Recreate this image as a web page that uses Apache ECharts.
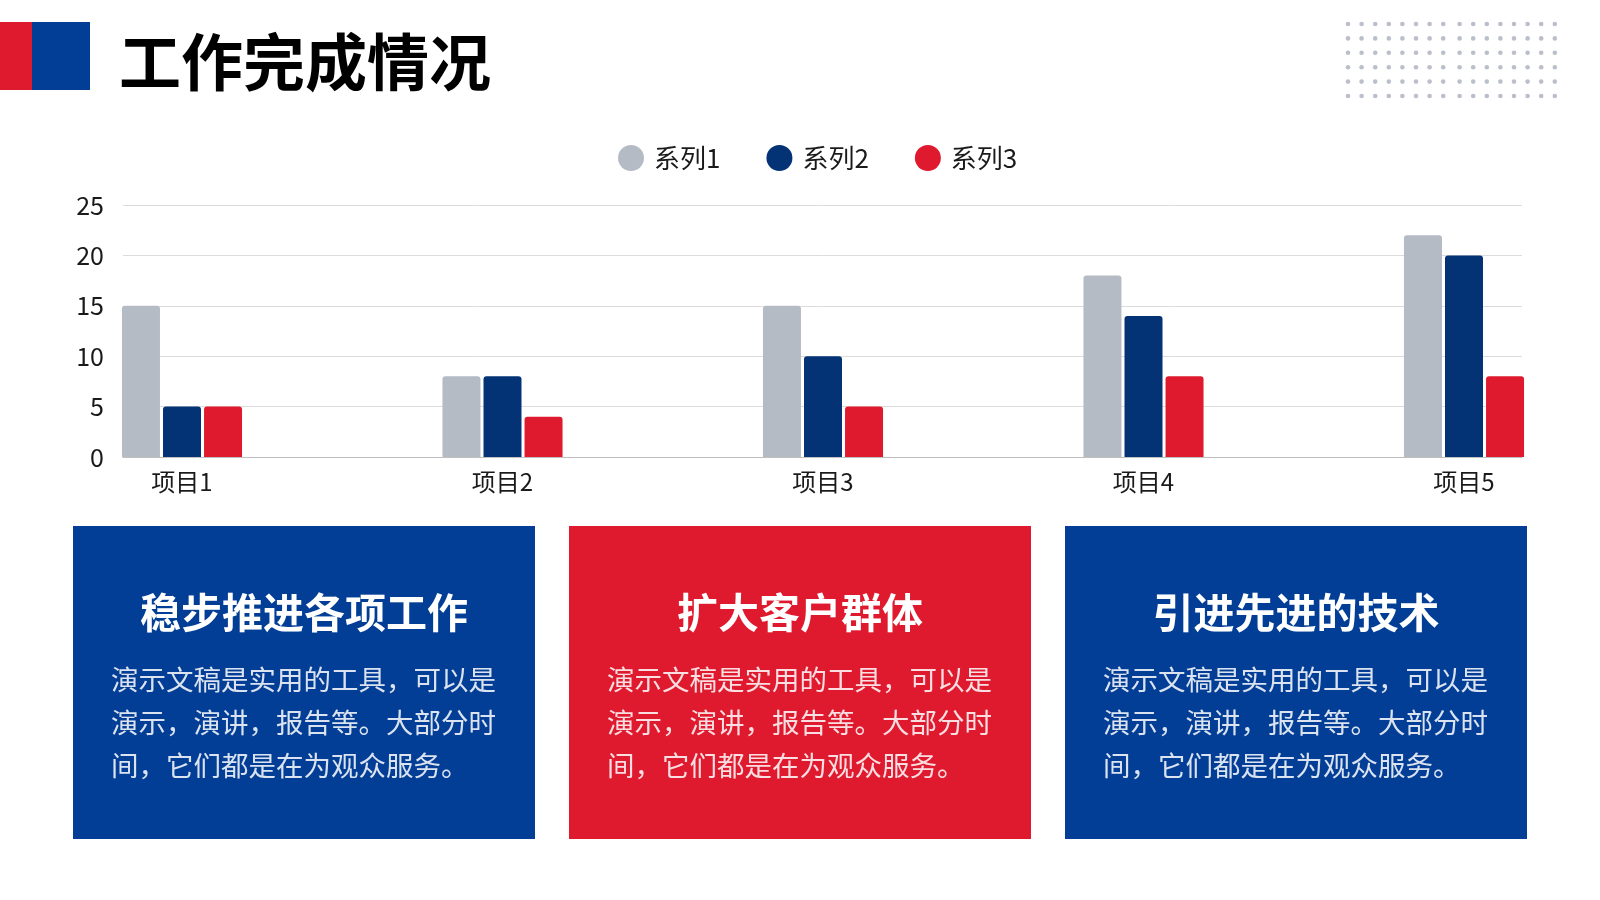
<!DOCTYPE html>
<html>
<head>
<meta charset="utf-8">
<title>工作完成情况</title>
<script src="https://cdn.jsdelivr.net/npm/echarts@6/dist/echarts.min.js"></script>
<style>
    html, body { margin: 0; padding: 0; background: #fff; }
    #main { width: 1600px; height: 900px; }
</style>
</head>
<body>
<div id="main"></div>
<script>
// 图表数据
var categories = ['项目1', '项目2', '项目3', '项目4', '项目5'];
var seriesNames = ['系列1', '系列2', '系列3'];
var series1 = [15, 8, 15, 18, 22];
var series2 = [5, 8, 10, 14, 20];
var series3 = [5, 4, 5, 8, 8];
var yTicks = { min: 0, max: 25, interval: 5 };

// 下方三个说明框
var cardTitles = ['稳步推进各项工作', '扩大客户群体', '引进先进的技术'];
var cardBody = '演示文稿是实用的工具，可以是\n演示，演讲，报告等。大部分时\n间，它们都是在为观众服务。';

var FONT = 'Noto Sans CJK SC';
var RED = '#df1a2e';
var BLUE = '#023e96';
var NAVY = '#033375';
var GRAY = '#b4bbc5';

var chart = echarts.init(document.getElementById('main'));

var graphics = [
    { type: 'rect', shape: { x: 0, y: 22, width: 32, height: 68 }, style: { fill: RED } },
    { type: 'rect', shape: { x: 32, y: 22, width: 58, height: 68 }, style: { fill: BLUE } },
    {
        type: 'text', x: 119, y: 62,
        style: { text: '工作完成情况', font: 'bold 62px "' + FONT + '"', fill: '#000', textVerticalAlign: 'middle' }
    }
];

// 右上角点阵（装饰）
for (var r = 0; r < 6; r++) {
    for (var c = 0; c < 16; c++) {
        graphics.push({
            type: 'circle',
            shape: { cx: 1348 + c * 13.6 + (c >= 8 ? 2.8 : 0), cy: 24 + r * 14.4, r: 2.3 },
            style: { fill: '#bbbfcb' }
        });
    }
}

var cardColors = [BLUE, RED, BLUE];
for (var i = 0; i < 3; i++) {
    var left = 73 + i * 496;
    graphics.push({ type: 'rect', shape: { x: left, y: 526, width: 462, height: 313 }, style: { fill: cardColors[i] } });
    graphics.push({
        type: 'text', x: left + 231, y: 612,
        style: {
            text: cardTitles[i], font: 'bold 41px "' + FONT + '"', fill: '#fff',
            textAlign: 'center', textVerticalAlign: 'middle'
        }
    });
    graphics.push({
        type: 'text', x: left + 38, y: 658,
        style: {
            text: cardBody, fontFamily: FONT, fontSize: 27.5, lineHeight: 43,
            fill: 'rgba(255,255,255,0.86)', textVerticalAlign: 'top'
        }
    });
}

function bar(name, data, color) {
    return {
        name: name,
        type: 'bar',
        xAxisIndex: 1,
        yAxisIndex: 1,
        data: data,
        barWidth: 38,
        barGap: '8%',
        clip: false,
        itemStyle: { color: color, borderRadius: [3, 3, 0, 0] }
    };
}

var option = {
    animation: false,
    color: [GRAY, NAVY, RED],
    textStyle: { fontFamily: FONT },
    legend: {
        data: seriesNames,
        left: 613,
        top: 140,
        icon: 'circle',
        itemWidth: 26,
        itemHeight: 26,
        itemGap: 46,
        textStyle: { fontSize: 26, color: '#1a1a1a', fontFamily: FONT, padding: [0, 0, 0, 5] }
    },
    // 两个网格：一个画坐标网格线，一个让柱组居中于两端
    grid: [
        { left: 123, right: 78, top: 205, height: 252 },
        { left: 182, right: 136, top: 205, height: 252 }
    ],
    xAxis: [
        {
            gridIndex: 0, type: 'category', data: categories,
            axisLine: { lineStyle: { color: '#bfbfbf' } },
            axisTick: { show: false }, axisLabel: { show: false }
        },
        {
            gridIndex: 1, type: 'category', data: categories, boundaryGap: false,
            axisLine: { show: false }, axisTick: { show: false },
            axisLabel: { fontSize: 24, color: '#1a1a1a', margin: 13, fontFamily: FONT }
        }
    ],
    yAxis: [
        {
            gridIndex: 0, type: 'value', min: yTicks.min, max: yTicks.max, interval: yTicks.interval,
            axisLine: { show: false }, axisTick: { show: false },
            splitLine: { lineStyle: { color: '#dcdcdc', width: 1 } },
            axisLabel: { fontSize: 25, color: '#1a1a1a', margin: 19, fontFamily: FONT }
        },
        {
            gridIndex: 1, type: 'value', min: yTicks.min, max: yTicks.max, interval: yTicks.interval,
            show: false
        }
    ],
    graphic: graphics,
    series: [
        bar(seriesNames[0], series1, GRAY),
        bar(seriesNames[1], series2, NAVY),
        bar(seriesNames[2], series3, RED)
    ]
};

chart.setOption(option);
</script>
</body>
</html>
